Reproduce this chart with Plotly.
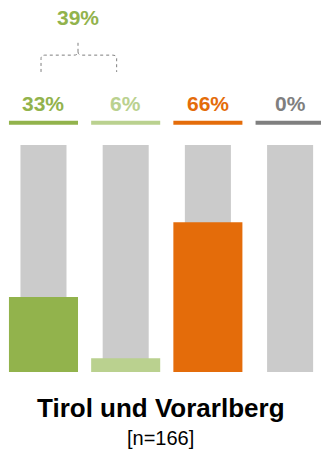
import plotly.graph_objects as go

categories = ["A", "B", "C", "D"]
values = [33, 6, 66, 0]
background = [100, 100, 100, 100]
colors = ["#92B34C", "#BAD18F", "#E46C0A", "#7F7F7F"]
label_colors = ["#92B34C", "#BAD18F", "#E46C0A", "#7F7F7F"]
group_total = 39
title = "Tirol und Vorarlberg"
subtitle = "[n=166]"

FONT = "Liberation Sans, Arial, sans-serif"
xs = list(range(len(categories)))

fig = go.Figure()
fig.add_trace(go.Bar(x=xs, y=background, width=0.56, marker=dict(color="#CBCBCB", line_width=0),
                     hoverinfo="skip"))
fig.add_trace(go.Bar(x=xs, y=values, width=0.84, marker=dict(color=colors, line_width=0),
                     hoverinfo="skip"))

shapes = []
annotations = []
for i, (v, c, lc) in enumerate(zip(values, colors, label_colors)):
    shapes.append(dict(type="line", xref="x", yref="y", x0=i - 0.42, x1=i + 0.42, y0=109.8, y1=109.8,
                       line=dict(color=c, width=4)))
    annotations.append(dict(x=i, y=118.5, xref="x", yref="y", text=f"<b>{v}%</b>", showarrow=False,
                            font=dict(family=FONT, size=21, color=lc), xanchor="center", yanchor="middle"))

# bracket over first two bars
x0, x1, xp = -0.03, 0.89, 0.42
yb, yh, yt = 132.2, 139.6, 146.3
dx = 0.05
path = (f"M {x0},{yb} L {x0},{yh-1.5} Q {x0},{yh} {x0+dx},{yh} L {xp-dx},{yh} "
        f"Q {xp},{yh} {xp},{yh+1.5} L {xp},{yt} M {xp},{yh+1.5} Q {xp},{yh} {xp+dx},{yh} "
        f"L {x1-dx},{yh} Q {x1},{yh} {x1},{yh-1.5} L {x1},{yb}")
shapes.append(dict(type="path", xref="x", yref="y", path=path,
                   line=dict(color="#7F7F7F", width=1, dash="dot")))
annotations.append(dict(x=xp, y=156.2, xref="x", yref="y", text=f"<b>{group_total}%</b>", showarrow=False,
                        font=dict(family=FONT, size=21, color=label_colors[0]), xanchor="center", yanchor="middle"))

annotations.append(dict(x=0.5, y=-16.0, xref="paper", yref="y", text=f"<b>{title}</b>", showarrow=False,
                        font=dict(family=FONT, size=26, color="#000000"), xanchor="center", yanchor="middle"))
annotations.append(dict(x=0.5, y=-29.3, xref="paper", yref="y", text=subtitle, showarrow=False,
                        font=dict(family=FONT, size=20, color="#000000"), xanchor="center", yanchor="middle"))

fig.update_layout(
    width=321, height=450,
    margin=dict(l=0, r=0, t=0, b=0),
    paper_bgcolor="white", plot_bgcolor="white",
    barmode="overlay", showlegend=False,
    xaxis=dict(range=[-0.529, 3.376], visible=False, fixedrange=True),
    yaxis=dict(range=[-34.4, 163.9], visible=False, fixedrange=True),
    shapes=shapes, annotations=annotations,
)
fig.write_html("out.html", config={"displayModeBar": False},
               post_script="document.body.style.margin='0';document.body.style.overflow='hidden';")
